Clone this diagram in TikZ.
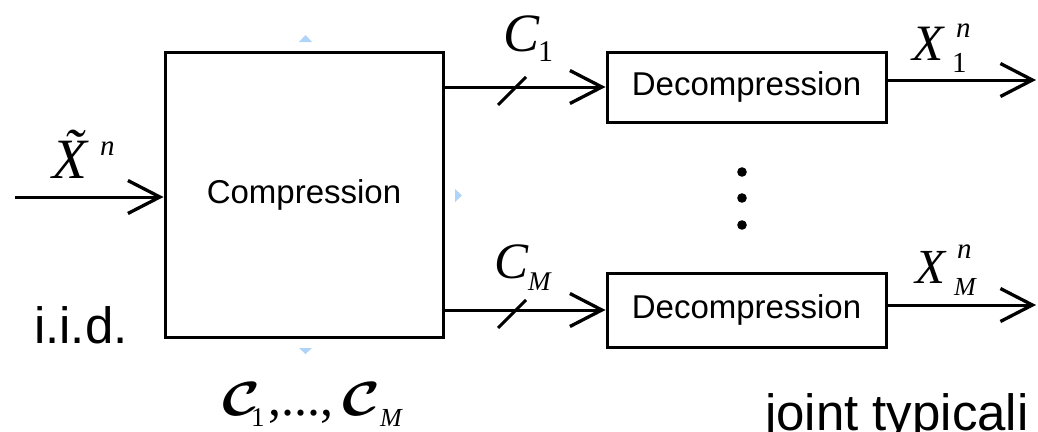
\documentclass[tikz,border=0pt]{standalone}
\usepackage{fix-cm}
\usepackage{amsmath,bm}
\usepackage{fontspec}
\setmainfont{Liberation Sans}
\newfontfamily\tms{Liberation Serif}
\usetikzlibrary{arrows.meta}
\definecolor{handle}{RGB}{175,212,250}
\begin{document}
\begin{tikzpicture}[x=1pt,y=-1pt,
  box/.style={draw,line width=3pt,inner sep=0pt,font=\fontsize{33}{40}\selectfont},
  conn/.style={line width=3pt,-{Straight Barb[length=32pt,width=33pt,line width=3.3pt]}},
  tick/.style={line width=3pt},
  lbl/.style={anchor=base west,inner sep=0pt,outer sep=0pt},
  mainit/.style={lbl,font=\fontsize{#1}{#1}\selectfont\tms\itshape},
  mainup/.style={lbl,font=\fontsize{#1}{#1}\selectfont\tms},
  sans/.style={lbl,font=\fontsize{51}{51}\selectfont},
  calc/.style={lbl,font=\fontsize{48}{48}\selectfont},
  hdl/.style={fill=handle,draw=none}
]
\useasboundingbox (0,0) rectangle (1038,431);

% boxes
\node[box,minimum width=278pt,minimum height=285pt] (comp) at (304,194.5) {Compression};
\node[box,minimum width=279pt,minimum height=70pt] (dec1) at (746.5,87) {Decompression};
\node[box,minimum width=279pt,minimum height=74pt] (decM) at (746.5,310) {Decompression};

% input
\coordinate (in) at (15,197);
\draw[conn] (in) -- (in -| comp.west);

% channels
\draw[conn] (comp.east |- dec1.west) -- (dec1.west);
\draw[conn] (comp.east |- decM.west) -- (decM.west);
\draw[tick] (512,91) +(-14,14) -- +(14,-14);
\draw[tick] (512,314) +(-14,14) -- +(14,-14);

% outputs
\coordinate (o1) at (1036,80);
\coordinate (oM) at (1036,305);
\draw[conn] (dec1.east |- o1) -- (o1);
\draw[conn] (decM.east |- oM) -- (oM);

% vertical dots
\fill (742,172) circle (4.8pt);
\fill (742,198) circle (4.8pt);
\fill (742,225) circle (4.8pt);

% selection handles
\fill[hdl] (299,42) -- (305.5,35) -- (312,42) -- cycle;
\fill[hdl] (455,189) -- (462,195.5) -- (455,202) -- cycle;
\fill[hdl] (299,348) -- (305.5,354) -- (312,348) -- cycle;

% labels
\node[mainit=57] (xt) at (52,178) {\~{X}};
\node[mainit=29] (xtn) at (100,155) {n};

\node[mainit=54] (c1) at (503,51) {C};
\node[mainup=30] (c1s) at (538,61) {1};
\node[mainit=51] (cM) at (494,278) {C};
\node[mainit=27] (cMs) at (528,290) {M};

\node[mainit=51] (x1) at (912,60) {X};
\node[mainit=29] (x1n) at (956,37) {n};
\node[mainup=29] (x1s) at (952,72) {1};
\node[mainit=49] (xM) at (915,283) {X};
\node[mainit=29] (xMn) at (957,258) {n};
\node[mainit=26] (xMs) at (954,295) {M};

\node[sans] (iid) at (34,343) {i.i.d.};
\node[sans] (jt) at (765,430) {joint typicali};

\node[calc] (cs1) at (222,415) {\scalebox{1.2}[1]{$\bm{\mathcal{C}}$}};
\node[mainup=27] (cs1s) at (251,426) {1};
\node[mainup=52] (cdots) at (268,415) {,...,};
\node[calc] (csM) at (342,415) {\scalebox{1.2}[1]{$\bm{\mathcal{C}}$}};
\node[mainit=26] (csMs) at (380,426) {M};
\end{tikzpicture}
\end{document}
